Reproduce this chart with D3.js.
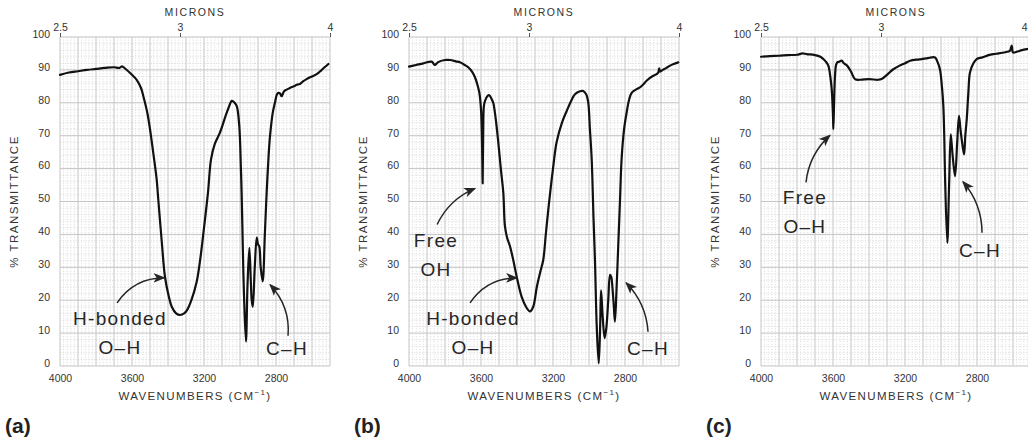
<!DOCTYPE html>
<html>
<head>
<meta charset="utf-8">
<script src="https://cdn.jsdelivr.net/npm/d3@7"></script>
<style>
  html, body { margin: 0; padding: 0; background: #fff; }
  svg { display: block; }
  text { font-family: "Liberation Sans", Arial, Helvetica, sans-serif; }
</style>
</head>
<body>
<svg id="chart" width="1028" height="448"></svg>
<script>
// IR spectra: [wavenumber (cm-1), % transmittance]
const spectrumA = [
  [4000,88.5],[3950,89.2],[3900,89.6],[3850,90],[3800,90.3],[3750,90.6],[3700,90.8],[3670,90.6],
  [3655,91.1],[3640,90.5],[3600,88.5],[3574,87],[3550,84.5],[3537,82],[3515,77],[3500,72],
  [3480,64],[3463,56.7],[3454,50.6],[3435,38],[3417,27.2],[3395,21],[3379,18],[3355,16],
  [3333,15.5],[3310,16],[3296,16.8],[3270,20],[3241,25.5],[3222,32],[3200,42],[3178,52.6],
  [3161,62.8],[3140,67.5],[3111,71],[3080,76],[3060,79],[3046,80.6],[3030,80],[3018,79],
  [3004,73],[2995,60],[2991,52.7],[2984,35],[2978,22],[2967,7.4],[2958,25],[2948,35.9],
  [2940,26],[2935,20],[2929,18],[2918,30],[2907,39],[2900,37],[2893,36.4],[2885,30],
  [2874,25.7],[2862,40],[2852,52.6],[2840,65],[2833,70],[2818,77],[2806,80],[2795,82.5],
  [2787,83],[2777,82.8],[2769,82],[2755,83.5],[2741,84],[2720,84.6],[2700,85],[2685,85.5],
  [2667,85.7],[2650,86.5],[2630,87.2],[2600,88],[2574,88.7],[2550,89.8],[2530,90.8],[2509,91.8]
];
const spectrumB = [
  [4000,91],[3960,91.5],[3920,92],[3874,92.5],[3856,91.5],[3840,92.3],[3800,93],[3772,93],
  [3740,92.6],[3717,92.3],[3690,91.5],[3671,90.8],[3650,89.5],[3633,87.7],[3620,85.5],[3609,83],
  [3600,78],[3596,72],[3592,60],[3591,55.5],[3588,70],[3584,79],[3578,80.5],[3565,82],
  [3554,82.3],[3540,81],[3532,80],[3518,75],[3504,68],[3490,60],[3476,52.6],[3467,42.5],
  [3455,39],[3439,36.4],[3420,32],[3402,27.2],[3374,21],[3350,18],[3328,16.6],[3310,18],
  [3290,24],[3272,28.3],[3254,32.3],[3240,40],[3226,47.6],[3200,60],[3180,68],[3150,74],
  [3124,77.5],[3100,80.5],[3078,82.6],[3050,83.5],[3032,83.6],[3015,82.5],[3004,80],[2995,72],
  [2985,62.8],[2975,45],[2967,32.3],[2957,12],[2946,0.8],[2938,12],[2933,23],[2924,15],
  [2913,8.5],[2903,12],[2893,20],[2883,27.7],[2876,27],[2870,24],[2862,18],[2856,13.5],
  [2848,22],[2837,37.4],[2828,50],[2819,62.8],[2805,72],[2791,77],[2777,81],[2763,83],
  [2740,84],[2717,84.7],[2700,85.5],[2680,86.7],[2650,88],[2625,88.7],[2615,89.2],[2610,90.5],
  [2605,89.5],[2590,90],[2570,90.6],[2550,91.3],[2530,91.8],[2504,92.3]
];
const spectrumC = [
  [4000,94],[3950,94.2],[3900,94.3],[3850,94.5],[3800,94.6],[3770,95],[3746,94.8],[3700,94.5],
  [3670,94],[3654,93.3],[3640,92.5],[3626,91.3],[3615,88],[3607,84],[3600,76],[3598,72],
  [3594,80],[3589,88],[3583,91.5],[3576,92.3],[3565,92.5],[3552,92.8],[3540,92],[3522,91.3],
  [3500,89.5],[3478,87.2],[3450,87],[3400,87.2],[3350,87],[3330,87.2],[3300,88.5],[3265,90.2],
  [3230,91.3],[3200,92],[3172,92.8],[3120,93.2],[3080,93.5],[3033,93.8],[3020,92.5],[3006,90.2],
  [2995,85],[2987,79],[2982,70],[2978,58.7],[2965,37.4],[2955,55],[2946,70.4],[2940,67],
  [2935,63.8],[2922,57.7],[2910,68],[2900,76],[2892,72],[2885,68.9],[2872,64.3],[2865,70],
  [2857,75],[2848,83],[2839,89.2],[2820,92],[2802,93.3],[2770,93.8],[2740,94.4],[2709,94.8],
  [2680,95],[2650,95.3],[2625,95.6],[2617,95.8],[2607,97.4],[2600,95.3],[2580,95.5],[2550,96],
  [2524,96.3],[2500,96.5]
];

const transmittanceTicks = [0, 10, 20, 30, 40, 50, 60, 70, 80, 90, 100];
const wavenumberTicks = [4000, 3600, 3200, 2800];
const micronTicks = [2.5, 3, 4];
const panelLabels = ["(a)", "(b)", "(c)"];

// Peak annotations per panel: text lines, text anchor point, arrow from -> to (data units)
const annotationsA = [
  { lines: ["H-bonded", "O\u2013H"], at: [3667, 14.6], from: [3683, 19.2], to: [3420, 26.8], bend: 14 },
  { lines: ["C\u2013H"], at: [2739, 5.5], from: [2733, 9.2], to: [2833, 24.7], bend: -12 }
];
const annotationsB = [
  { lines: ["Free", "OH"], at: [3850, 38.4], from: [3844, 43], to: [3633, 54], bend: 10 },
  { lines: ["H-bonded", "O\u2013H"], at: [3644, 14.6], from: [3661, 19.2], to: [3400, 26.8], bend: 14 },
  { lines: ["C\u2013H"], at: [2672, 5.5], from: [2672, 10.4], to: [2794, 25.3], bend: -10 }
];
const annotationsC = [
  { lines: ["Free", "O\u2013H"], at: [3756, 51.5], from: [3750, 55.8], to: [3617, 70.1], bend: 10 },
  { lines: ["C\u2013H"], at: [2783, 35.4], from: [2772, 40.5], to: [2878, 56], bend: -10 }
];

const panels = [
  { label: panelLabels[0], data: spectrumA, notes: annotationsA, left: 60 },
  { label: panelLabels[1], data: spectrumB, notes: annotationsB, left: 409 },
  { label: panelLabels[2], data: spectrumC, notes: annotationsC, left: 761 }
];

const svg = d3.select("#chart");
const width = +svg.attr("width");
const plotW = 270, plotTop = 37, plotBottom = 366;
const ink = "#262626";

svg.append("defs").append("marker")
  .attr("id", "head")
  .attr("viewBox", "0 0 10 10")
  .attr("refX", 9).attr("refY", 5)
  .attr("markerWidth", 12).attr("markerHeight", 12)
  .attr("markerUnits", "userSpaceOnUse")
  .attr("orient", "auto")
  .append("path").attr("d", "M0,1 L10,5 L0,9 L2.5,5 Z").attr("fill", ink);

panels.forEach(p => {
  const x = d3.scaleLinear().domain([4000, 2500]).range([p.left, p.left + plotW]);
  const y = d3.scaleLinear().domain([0, 100]).range([plotBottom, plotTop]);
  const g = svg.append("g");

  // minor dotted grid
  const minorX = d3.range(4000, 2499, -20).filter(v => v % 100 !== 0);
  const minorY = d3.range(0, 101, 2).filter(v => v % 10 !== 0);
  g.append("g").selectAll("line").data(minorX).join("line")
    .attr("x1", d => x(d)).attr("x2", d => x(d))
    .attr("y1", plotTop).attr("y2", plotBottom)
    .attr("stroke", "#cfcfcf").attr("stroke-width", 0.8).attr("stroke-dasharray", "1 1.6");
  g.append("g").selectAll("line").data(minorY).join("line")
    .attr("x1", p.left).attr("x2", p.left + plotW)
    .attr("y1", d => y(d)).attr("y2", d => y(d))
    .attr("stroke", "#d6d6d6").attr("stroke-width", 0.8).attr("stroke-dasharray", "1 1.6");

  // major grid
  g.append("g").selectAll("line").data(d3.range(4000, 2499, -100)).join("line")
    .attr("x1", d => x(d)).attr("x2", d => x(d))
    .attr("y1", plotTop).attr("y2", plotBottom)
    .attr("stroke", "#c4c4c4").attr("stroke-width", 1);
  g.append("g").selectAll("line").data(transmittanceTicks).join("line")
    .attr("x1", p.left).attr("x2", p.left + plotW)
    .attr("y1", d => y(d)).attr("y2", d => y(d))
    .attr("stroke", "#c4c4c4").attr("stroke-width", 1);

  // axes
  const styleAxis = a => {
    a.select(".domain").remove();
    a.selectAll("text").attr("fill", "#333").style("font-size", "10.5px")
      .style("font-family", "'Liberation Sans', Arial, sans-serif");
    a.selectAll(".tick line").attr("stroke", "#555");
  };
  g.append("g").attr("transform", "translate(" + p.left + ",-3)")
    .call(d3.axisLeft(y).tickValues(transmittanceTicks).tickSize(0).tickPadding(10))
    .call(styleAxis);
  g.append("g").attr("transform", "translate(0," + plotBottom + ")")
    .call(d3.axisBottom(x).tickValues(wavenumberTicks).tickSize(0).tickPadding(9)
      .tickFormat(d3.format("d")))
    .call(styleAxis);
  const top = g.append("g").attr("transform", "translate(0," + plotTop + ")")
    .call(d3.axisTop(x).tickValues(micronTicks.map(m => 1e4 / m)).tickSize(4).tickPadding(2)
      .tickFormat((d, i) => micronTicks[i]))
    .call(styleAxis);
  // keep a label inside the page when its tick sits at the right edge
  top.selectAll(".tick text").filter(d => x(d) > width - 6).attr("text-anchor", "end")
    .attr("x", d => width - 1 - x(d));

  // axis titles
  const cx = p.left + plotW / 2;
  g.append("text").attr("x", cx).attr("y", 13).attr("text-anchor", "middle")
    .attr("dominant-baseline", "middle").attr("fill", "#333")
    .style("font-size", "10.5px").style("letter-spacing", "1.6px").text("MICRONS");
  const wt = g.append("text").attr("x", cx).attr("y", 397).attr("text-anchor", "middle")
    .attr("dominant-baseline", "middle").attr("fill", "#333")
    .style("font-size", "11.5px").style("letter-spacing", "1.4px");
  wt.append("tspan").text("WAVENUMBERS (CM");
  wt.append("tspan").attr("dy", -4).style("font-size", "8px").text("\u22121");
  wt.append("tspan").attr("dy", 4).text(")");
  g.append("text")
    .attr("transform", "translate(" + (p.left - 45) + "," + (plotTop + plotBottom) / 2 + ") rotate(-90)")
    .attr("text-anchor", "middle").attr("dominant-baseline", "middle").attr("fill", "#333")
    .style("font-size", "11.5px").style("letter-spacing", "1.5px").text("% TRANSMITTANCE");

  // spectrum trace
  const line = d3.line().x(d => x(d[0])).y(d => y(d[1])).curve(d3.curveCatmullRom.alpha(0.5));
  g.append("path").datum(p.data).attr("d", line)
    .attr("fill", "none").attr("stroke", "#111").attr("stroke-width", 2.2)
    .attr("stroke-linejoin", "round").attr("stroke-linecap", "round");

  // annotations
  p.notes.forEach(n => {
    const [sx, sy] = [x(n.from[0]), y(n.from[1])];
    const [ex, ey] = [x(n.to[0]), y(n.to[1])];
    const dx = ex - sx, dy = ey - sy, len = Math.hypot(dx, dy);
    const qx = (sx + ex) / 2 + dy / len * n.bend;
    const qy = (sy + ey) / 2 - dx / len * n.bend;
    g.append("path").attr("d", "M" + sx + "," + sy + " Q" + qx + "," + qy + " " + ex + "," + ey)
      .attr("fill", "none").attr("stroke", ink).attr("stroke-width", 1.5)
      .attr("marker-end", "url(#head)");
    const t = g.append("text").attr("text-anchor", "middle").attr("fill", ink)
      .style("font-size", "19px").style("letter-spacing", "1.3px");
    n.lines.forEach((s, i) => {
      t.append("tspan").attr("x", x(n.at[0])).attr("y", y(n.at[1]) + 7 + i * 29).text(s);
    });
  });

  // panel label
  g.append("text").attr("x", p.left - 55).attr("y", 433).attr("fill", "#222")
    .style("font-size", "21px").style("font-weight", "bold").text(p.label);
});
</script>
</body>
</html>
